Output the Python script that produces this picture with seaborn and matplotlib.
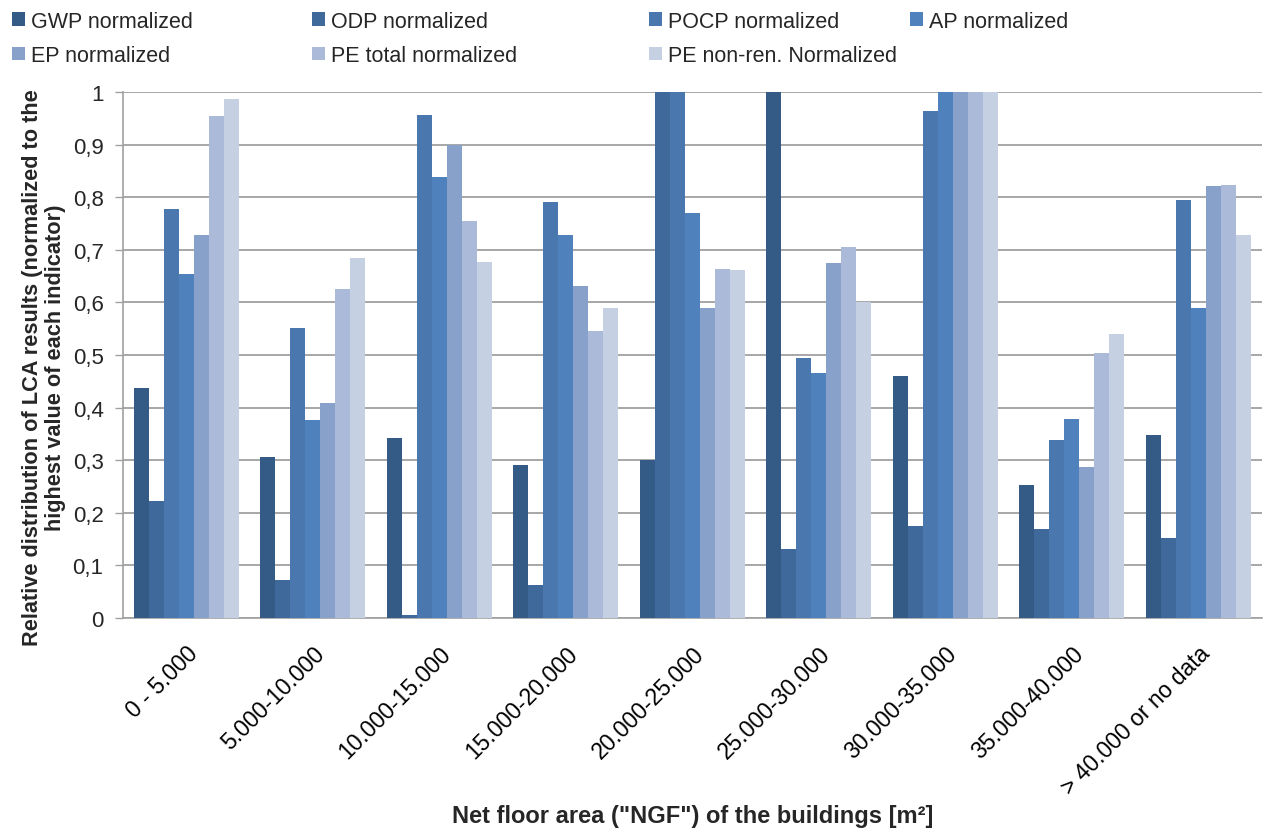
import matplotlib
matplotlib.use("Agg")
import matplotlib.pyplot as plt
import seaborn as sns
import pandas as pd
import numpy as np
from matplotlib.patches import Patch
from matplotlib.ticker import FixedLocator, FuncFormatter

categories = ["0 - 5.000", "5.000-10.000", "10.000-15.000", "15.000-20.000",
              "20.000-25.000", "25.000-30.000", "30.000-35.000", "35.000-40.000",
              "> 40.000 or no data"]

series_names = ["GWP normalized", "ODP normalized", "POCP normalized", "AP normalized",
                "EP normalized", "PE total normalized", "PE non-ren. Normalized"]

gwp = [0.438, 0.307, 0.343, 0.290, 0.300, 1.000, 0.460, 0.252, 0.348]
odp = [0.223, 0.073, 0.005, 0.062, 1.000, 0.132, 0.174, 0.170, 0.153]
pocp = [0.777, 0.552, 0.956, 0.790, 1.000, 0.494, 0.963, 0.339, 0.795]
ap = [0.654, 0.377, 0.839, 0.728, 0.770, 0.466, 1.000, 0.378, 0.589]
ep = [0.728, 0.409, 0.900, 0.632, 0.590, 0.674, 1.000, 0.288, 0.822]
pe_total = [0.954, 0.626, 0.754, 0.546, 0.664, 0.705, 1.000, 0.503, 0.824]
pe_nonren = [0.986, 0.685, 0.677, 0.590, 0.662, 0.601, 1.000, 0.540, 0.728]

colors = ["#345A86", "#3F689B", "#4A78AE", "#4F81BD", "#87A1CB", "#ABBAD8", "#C5D0E2"]

series_values = [gwp, odp, pocp, ap, ep, pe_total, pe_nonren]
df = pd.DataFrame({
    "category": np.tile(categories, len(series_names)),
    "series": np.repeat(series_names, len(categories)),
    "value": np.concatenate(series_values),
})

sns.set_style("white")
plt.rcParams["font.family"] = ["Liberation Sans", "DejaVu Sans"]

fig = plt.figure(figsize=(12.65, 8.29), dpi=100)
ax = fig.add_axes([123 / 1265, 1 - 619 / 829, (1261.5 - 123) / 1265, (619 - 93) / 829])

sns.barplot(data=df, x="category", y="value", hue="series", order=categories,
            hue_order=series_names, palette=colors, width=0.83, gap=0,
            saturation=1, linewidth=0, legend=False, ax=ax, zorder=3)

ax.set_ylim(0, 1)
ax.set_xlim(-0.5, len(categories) - 0.5)

# horizontal gridlines at each tenth
yt = np.round(np.arange(0, 1.01, 0.1), 1)
ax.yaxis.set_major_locator(FixedLocator(yt))
ax.yaxis.set_major_formatter(FuncFormatter(lambda v, p: ("%g" % round(v, 1)).replace(".", ",")))
ax.grid(axis="y", color="#A0A0A0", linewidth=1.3, zorder=0)
ax.set_axisbelow(True)

# category boundary tick marks below the axis, labels at the centers
ax.set_xticks(range(len(categories)))
ax.set_xticklabels(categories, rotation=45, ha="right", rotation_mode="anchor")
ax.set_xticks(np.arange(-0.5, len(categories), 1.0), minor=True)
ax.tick_params(axis="x", which="major", length=0, pad=17, labelsize=16.5, colors="black")
ax.tick_params(axis="x", which="minor", length=6, width=1, color="#A0A0A0", direction="out")
ax.tick_params(axis="y", length=6, width=1, color="#A0A0A0", direction="out", pad=8,
               labelsize=16, left=True)

for side in ["top", "right"]:
    ax.spines[side].set_visible(False)
for side in ["left", "bottom"]:
    ax.spines[side].set_color("#A0A0A0")
    ax.spines[side].set_linewidth(1.2)

ax.set_xlabel('Net floor area ("NGF") of the buildings [m²]', fontsize=17,
              fontweight="bold", labelpad=0)
ax.xaxis.set_label_coords(0.5, -0.354)
ax.set_ylabel("Relative distribution of LCA results (normalized to the\n"
              "highest value of each indicator)", fontsize=15.7, fontweight="bold",
              linespacing=1.15)
ax.yaxis.set_label_coords(-0.05, 0.477)

# legend laid out in a four-column grid across the top
columns = [[0, 4], [1, 5], [2, 6], [3]]
col_x = [3, 303, 640, 901]
for cx, idx in zip(col_x, columns):
    handles = [Patch(facecolor=colors[i], edgecolor="none", label=series_names[i]) for i in idx]
    fig.legend(handles=handles, loc="upper left", bbox_to_anchor=(cx / 1265, 1 - 3 / 829),
               frameon=False, fontsize=15.5, handlelength=0.6, handleheight=0.6,
               handletextpad=0.3, labelspacing=0.62, borderaxespad=0)

fig.savefig("out.png", dpi=100, facecolor="white")
